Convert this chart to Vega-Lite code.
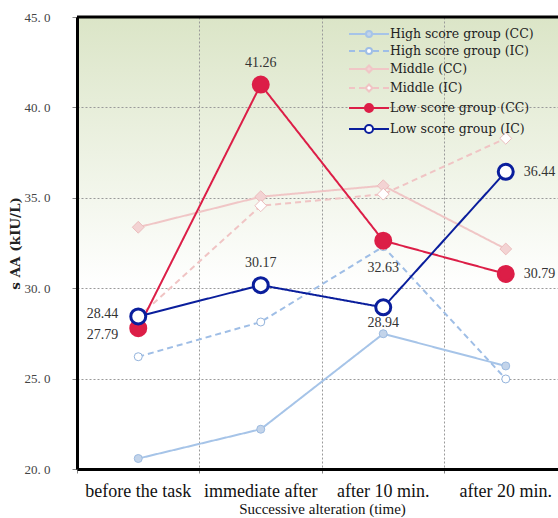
{
  "$schema": "https://vega.github.io/schema/vega-lite/v6.json",
  "width": 481,
  "height": 452,
  "autosize": {"type": "none"},
  "padding": {"left": 77, "top": 17, "right": 0, "bottom": 49},
  "background": "white",
  "view": {
    "stroke": null,
    "fill": {"gradient": "linear", "x1": 0, "y1": 0, "x2": 0, "y2": 1,
      "stops": [{"offset": 0, "color": "#dbe5c7"}, {"offset": 0.6, "color": "#ffffff"}, {"offset": 1, "color": "#ffffff"}]}
  },
  "config": {
    "axisY": {
      "labelFont": "Liberation Serif", "labelFontSize": 13, "labelColor": "#444", "labelPadding": 22,
      "tickSize": 5, "tickColor": "#888", "domainColor": "#000", "domainWidth": 3,
      "gridColor": "#9a9a9a", "gridDash": [2, 2], "gridWidth": 1,
      "titleFont": "DejaVu Serif", "titleFontWeight": "bold", "titleFontSize": 13.5, "titleColor": "#222", "titlePadding": 2
    },
    "axisX": {
      "labelFont": "Liberation Serif", "labelFontSize": 18, "labelColor": "#111", "labelAngle": 0, "labelPadding": 9,
      "tickSize": 4, "tickColor": "#888", "domainColor": "#000", "domainWidth": 3,
      "gridColor": "#9a9a9a", "gridDash": [2, 2], "gridWidth": 1, "bandPosition": 0,
      "titleFont": "Liberation Serif", "titleFontSize": 15, "titleFontWeight": "normal", "titleColor": "#111", "titlePadding": 1
    },
    "legend": {
      "orient": "none", "legendX": 285, "legendY": 10,
      "symbolSize": 144, "labelFont": "DejaVu Serif", "labelFontSize": 12.5, "labelColor": "#222",
      "labelOffset": 14, "rowPadding": 3, "symbolOpacity": 1
    }
  },
  "datasets": {
    "main": [
      {"series": "High score group (CC)", "time": "before the task", "value": 20.58},
      {"series": "High score group (CC)", "time": "immediate after", "value": 22.2},
      {"series": "High score group (CC)", "time": "after 10 min.", "value": 27.48},
      {"series": "High score group (CC)", "time": "after 20 min.", "value": 25.7},
      {"series": "High score group (IC)", "time": "before the task", "value": 26.21},
      {"series": "High score group (IC)", "time": "immediate after", "value": 28.13},
      {"series": "High score group (IC)", "time": "after 10 min.", "value": 32.3},
      {"series": "High score group (IC)", "time": "after 20 min.", "value": 24.98},
      {"series": "Middle (CC)", "time": "before the task", "value": 33.37},
      {"series": "Middle (CC)", "time": "immediate after", "value": 35.06},
      {"series": "Middle (CC)", "time": "after 10 min.", "value": 35.67},
      {"series": "Middle (CC)", "time": "after 20 min.", "value": 32.17},
      {"series": "Middle (IC)", "time": "before the task", "value": 28.4},
      {"series": "Middle (IC)", "time": "immediate after", "value": 34.56},
      {"series": "Middle (IC)", "time": "after 10 min.", "value": 35.2},
      {"series": "Middle (IC)", "time": "after 20 min.", "value": 38.29},
      {"series": "Low score group (CC)", "time": "before the task", "value": 27.79},
      {"series": "Low score group (CC)", "time": "immediate after", "value": 41.26},
      {"series": "Low score group (CC)", "time": "after 10 min.", "value": 32.63},
      {"series": "Low score group (CC)", "time": "after 20 min.", "value": 30.79},
      {"series": "Low score group (IC)", "time": "before the task", "value": 28.44},
      {"series": "Low score group (IC)", "time": "immediate after", "value": 30.17},
      {"series": "Low score group (IC)", "time": "after 10 min.", "value": 28.94},
      {"series": "Low score group (IC)", "time": "after 20 min.", "value": 36.44}
    ],
    "border": [{"top": 45}]
  },
  "layer": [
    {
      "data": {"name": "main"},
      "resolve": {"scale": {"fill": "independent", "stroke": "independent", "strokeWidth": "independent", "shape": "independent"}},
      "encoding": {
        "x": {
          "field": "time", "type": "nominal",
          "sort": ["before the task", "immediate after", "after 10 min.", "after 20 min."],
          "scale": {"type": "band", "paddingInner": 0, "paddingOuter": 0, "range": [0, 490]},
          "axis": {"title": "Successive alteration (time)", "grid": true}
        },
        "y": {
          "field": "value", "type": "quantitative",
          "scale": {"domain": [20, 45], "nice": false, "zero": false},
          "axis": {"title": "s AA (kIU/L)", "values": [20, 25, 30, 35, 40, 45], "grid": true,
            "labelExpr": "replace(format(datum.value, '.1f'), '.', '. ')"}
        }
      },
      "layer": [
        {
          "mark": {"type": "line"},
          "encoding": {
            "color": {
              "field": "series", "type": "nominal",
              "scale": {
                "domain": ["High score group (CC)", "High score group (IC)", "Middle (CC)", "Middle (IC)", "Low score group (CC)", "Low score group (IC)"],
                "range": ["#a6c4e8", "#9fbee6", "#f0c6c6", "#f0c4c4", "#dc1e47", "#0a1e9c"]
              },
              "legend": null
            },
            "strokeDash": {
              "field": "series", "type": "nominal",
              "scale": {
                "domain": ["High score group (CC)", "High score group (IC)", "Middle (CC)", "Middle (IC)", "Low score group (CC)", "Low score group (IC)"],
                "range": [[1, 0], [6, 4], [1, 0], [6, 4], [1, 0], [1, 0]]
              },
              "legend": null
            },
            "strokeWidth": {
              "field": "series", "type": "nominal",
              "scale": {
                "domain": ["High score group (CC)", "High score group (IC)", "Middle (CC)", "Middle (IC)", "Low score group (CC)", "Low score group (IC)"],
                "range": [2, 2, 2, 2, 3.9, 3.9]
              },
              "legend": null
            }
          }
        },
        {
          "transform": [{"filter": "false"}],
          "mark": {"type": "point", "opacity": 1},
          "encoding": {
            "shape": {
              "field": "series", "type": "nominal",
              "scale": {
                "domain": ["High score group (CC)", "High score group (IC)", "Middle (CC)", "Middle (IC)", "Low score group (CC)", "Low score group (IC)"],
                "range": [
                  "M-3.33,0L-0.5,0M0.5,0L3.33,0M0.5,0A0.5,0.5,0,1,1,-0.5,0A0.5,0.5,0,1,1,0.5,0Z",
                  "M-3.33,0L-2.33,0M-1.67,0L-0.67,0M0.67,0L1.67,0M2.33,0L3.33,0M0.5,0A0.5,0.5,0,1,1,-0.5,0A0.5,0.5,0,1,1,0.5,0Z",
                  "M-3.33,0L-0.58,0M0.58,0L3.33,0M0,-0.58L0.58,0L0,0.58L-0.58,0Z",
                  "M-3.33,0L-2.33,0M-1.67,0L-0.75,0M0.75,0L1.67,0M2.33,0L3.33,0M0,-0.58L0.58,0L0,0.58L-0.58,0Z",
                  "M-3.33,0L-0.67,0M0.67,0L3.33,0M0.67,0A0.67,0.67,0,1,1,-0.67,0A0.67,0.67,0,1,1,0.67,0Z",
                  "M-3.33,0L-0.67,0M0.67,0L3.33,0M0.67,0A0.67,0.67,0,1,1,-0.67,0A0.67,0.67,0,1,1,0.67,0Z"
                ]
              },
              "legend": {"title": null}
            },
            "fill": {
              "field": "series", "type": "nominal",
              "scale": {"domain": ["High score group (CC)", "High score group (IC)", "Middle (CC)", "Middle (IC)", "Low score group (CC)", "Low score group (IC)"],
                "range": ["#c3d4ea", "#ffffff", "#f3d3d3", "#ffffff", "#dc1e47", "#ffffff"]},
              "legend": {"title": null}
            },
            "stroke": {
              "field": "series", "type": "nominal",
              "scale": {"domain": ["High score group (CC)", "High score group (IC)", "Middle (CC)", "Middle (IC)", "Low score group (CC)", "Low score group (IC)"],
                "range": ["#a6c4e8", "#9fbee6", "#f0c6c6", "#f0c4c4", "#dc1e47", "#0a1e9c"]},
              "legend": {"title": null}
            },
            "strokeWidth": {
              "field": "series", "type": "nominal",
              "scale": {"domain": ["High score group (CC)", "High score group (IC)", "Middle (CC)", "Middle (IC)", "Low score group (CC)", "Low score group (IC)"],
                "range": [2, 2, 2, 2, 3.5, 3.5]},
              "legend": {"title": null}
            }
          }
        },
        {
          "transform": [{"filter": "indexof(datum.series, 'High') >= 0"}],
          "mark": {"type": "point", "shape": "circle", "opacity": 1, "strokeWidth": 1, "size": 64},
          "encoding": {
            "fill": {"field": "series", "type": "nominal", "legend": null,
              "scale": {"domain": ["High score group (CC)", "High score group (IC)"], "range": ["#c3d4ea", "#ffffff"]}},
            "stroke": {"field": "series", "type": "nominal", "legend": null,
              "scale": {"domain": ["High score group (CC)", "High score group (IC)"], "range": ["#9dbbe0", "#93b3dc"]}}
          }
        },
        {
          "transform": [{"filter": "indexof(datum.series, 'Middle') >= 0"}],
          "mark": {"type": "point", "shape": "diamond", "opacity": 1, "strokeWidth": 1, "size": 140},
          "encoding": {
            "fill": {"field": "series", "type": "nominal", "legend": null,
              "scale": {"domain": ["Middle (CC)", "Middle (IC)"], "range": ["#f3d3d3", "#ffffff"]}},
            "stroke": {"field": "series", "type": "nominal", "legend": null,
              "scale": {"domain": ["Middle (CC)", "Middle (IC)"], "range": ["#ebbdbd", "#ebbdbd"]}}
          }
        },
        {
          "transform": [{"filter": "indexof(datum.series, 'Low') >= 0"}],
          "mark": {"type": "point", "shape": "circle", "opacity": 1, "strokeWidth": 3, "size": 225},
          "encoding": {
            "fill": {"field": "series", "type": "nominal", "legend": null,
              "scale": {"domain": ["Low score group (CC)", "Low score group (IC)"], "range": ["#dc1e47", "#ffffff"]}},
            "stroke": {"field": "series", "type": "nominal", "legend": null,
              "scale": {"domain": ["Low score group (CC)", "Low score group (IC)"], "range": ["#dc1e47", "#0a1e9c"]}}
          }
        },
        {
          "transform": [{"filter": "datum.series === 'Low score group (IC)' && datum.time === 'before the task'"}],
          "mark": {"type": "text", "align": "right", "baseline": "middle", "dx": -20, "dy": -2, "font": "Liberation Serif", "fontSize": 14, "color": "#333"},
          "encoding": {"text": {"field": "value", "type": "quantitative", "format": ".2f"}}
        },
        {
          "transform": [{"filter": "datum.series === 'Low score group (CC)' && datum.time === 'before the task'"}],
          "mark": {"type": "text", "align": "right", "baseline": "middle", "dx": -20, "dy": 7, "font": "Liberation Serif", "fontSize": 14, "color": "#333"},
          "encoding": {"text": {"field": "value", "type": "quantitative", "format": ".2f"}}
        },
        {
          "transform": [{"filter": "indexof(datum.series, 'Low') >= 0 && datum.time === 'immediate after'"}],
          "mark": {"type": "text", "align": "center", "baseline": "middle", "dy": -22, "font": "Liberation Serif", "fontSize": 14, "color": "#333"},
          "encoding": {"text": {"field": "value", "type": "quantitative", "format": ".2f"}}
        },
        {
          "transform": [{"filter": "datum.series === 'Low score group (CC)' && datum.time === 'after 10 min.'"}],
          "mark": {"type": "text", "align": "center", "baseline": "middle", "dy": 27, "font": "Liberation Serif", "fontSize": 14, "color": "#333"},
          "encoding": {"text": {"field": "value", "type": "quantitative", "format": ".2f"}}
        },
        {
          "transform": [{"filter": "datum.series === 'Low score group (IC)' && datum.time === 'after 10 min.'"}],
          "mark": {"type": "text", "align": "center", "baseline": "middle", "dy": 16, "font": "Liberation Serif", "fontSize": 14, "color": "#333"},
          "encoding": {"text": {"field": "value", "type": "quantitative", "format": ".2f"}}
        },
        {
          "transform": [{"filter": "indexof(datum.series, 'Low') >= 0 && datum.time === 'after 20 min.'"}],
          "mark": {"type": "text", "align": "left", "baseline": "middle", "dx": 18, "font": "Liberation Serif", "fontSize": 14, "color": "#333"},
          "encoding": {"text": {"field": "value", "type": "quantitative", "format": ".2f"}}
        }
      ]
    },
    {
      "data": {"name": "border"},
      "mark": {"type": "rule", "color": "#000", "strokeWidth": 3},
      "encoding": {"y": {"field": "top", "type": "quantitative"}}
    }
  ]
}
